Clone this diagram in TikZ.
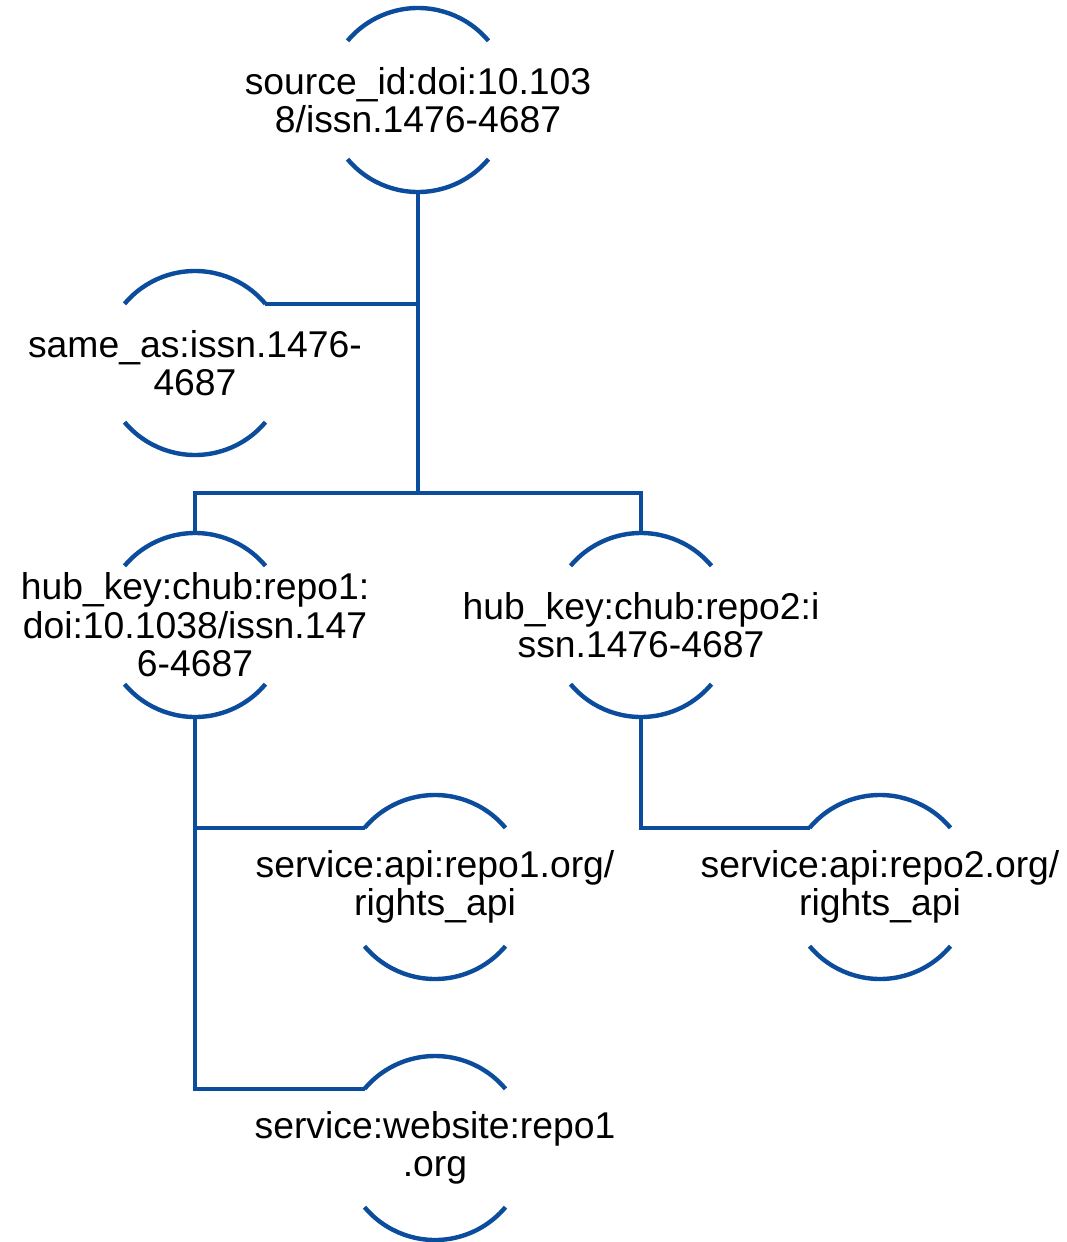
\documentclass[tikz,border=0pt]{standalone}
\usepackage{fontspec}
\setmainfont{Liberation Sans}
\definecolor{ln}{HTML}{0B4C9C}
\begin{document}
\begin{tikzpicture}[x=1pt,y=1pt,
  ring/.style={circle,minimum size=184pt,inner sep=0pt,outer sep=0pt},
  txt/.style={align=center,font=\fontsize{37.3}{38.5}\selectfont,inner sep=0pt},
  wire/.style={draw=ln,line width=4.4pt,line join=miter}]
\useasboundingbox (0,0) rectangle (1067,-1242);
\node[ring] (A) at (418,-100) {};
\node[ring] (B) at (195,-363) {};
\node[ring] (C) at (195,-625) {};
\node[ring] (D) at (641,-625) {};
\node[ring] (E) at (435,-887) {};
\node[ring] (F) at (435,-1148) {};
\node[ring] (G) at (880,-887) {};
\node[txt] (At) at (A) {source\_id:doi:10.103\\8/issn.1476-4687};
\node[txt] (Bt) at (B) {same\_as:issn.1476-\\4687};
\node[txt] (Ct) at (C) {hub\_key:chub:repo1:\\doi:10.1038/issn.147\\6-4687};
\node[txt] (Dt) at (D) {hub\_key:chub:repo2:i\\ssn.1476-4687};
\node[txt] (Et) at (E) {service:api:repo1.org/\\rights\_api};
\node[txt] (Ft) at (F) {service:website:repo1\\.org};
\node[txt] (Gt) at (G) {service:api:repo2.org/\\rights\_api};
\foreach \n in {A,B,C,D,E,F,G} {
  \draw[wire] (\n.40) arc[start angle=40,end angle=140,radius=92pt];
  \draw[wire] (\n.220) arc[start angle=220,end angle=320,radius=92pt];
}
\coordinate (J) at (418,-493);
\draw[wire] (A.south) -- (J);
\draw[wire] (A.south) |- (B.40);
\draw[wire] (C.north) |- (J) -| (D.north);
\draw[wire] (C.south) |- (E.140);
\draw[wire] (C.south) |- (F.140);
\draw[wire] (D.south) |- (G.140);
\end{tikzpicture}
\end{document}
